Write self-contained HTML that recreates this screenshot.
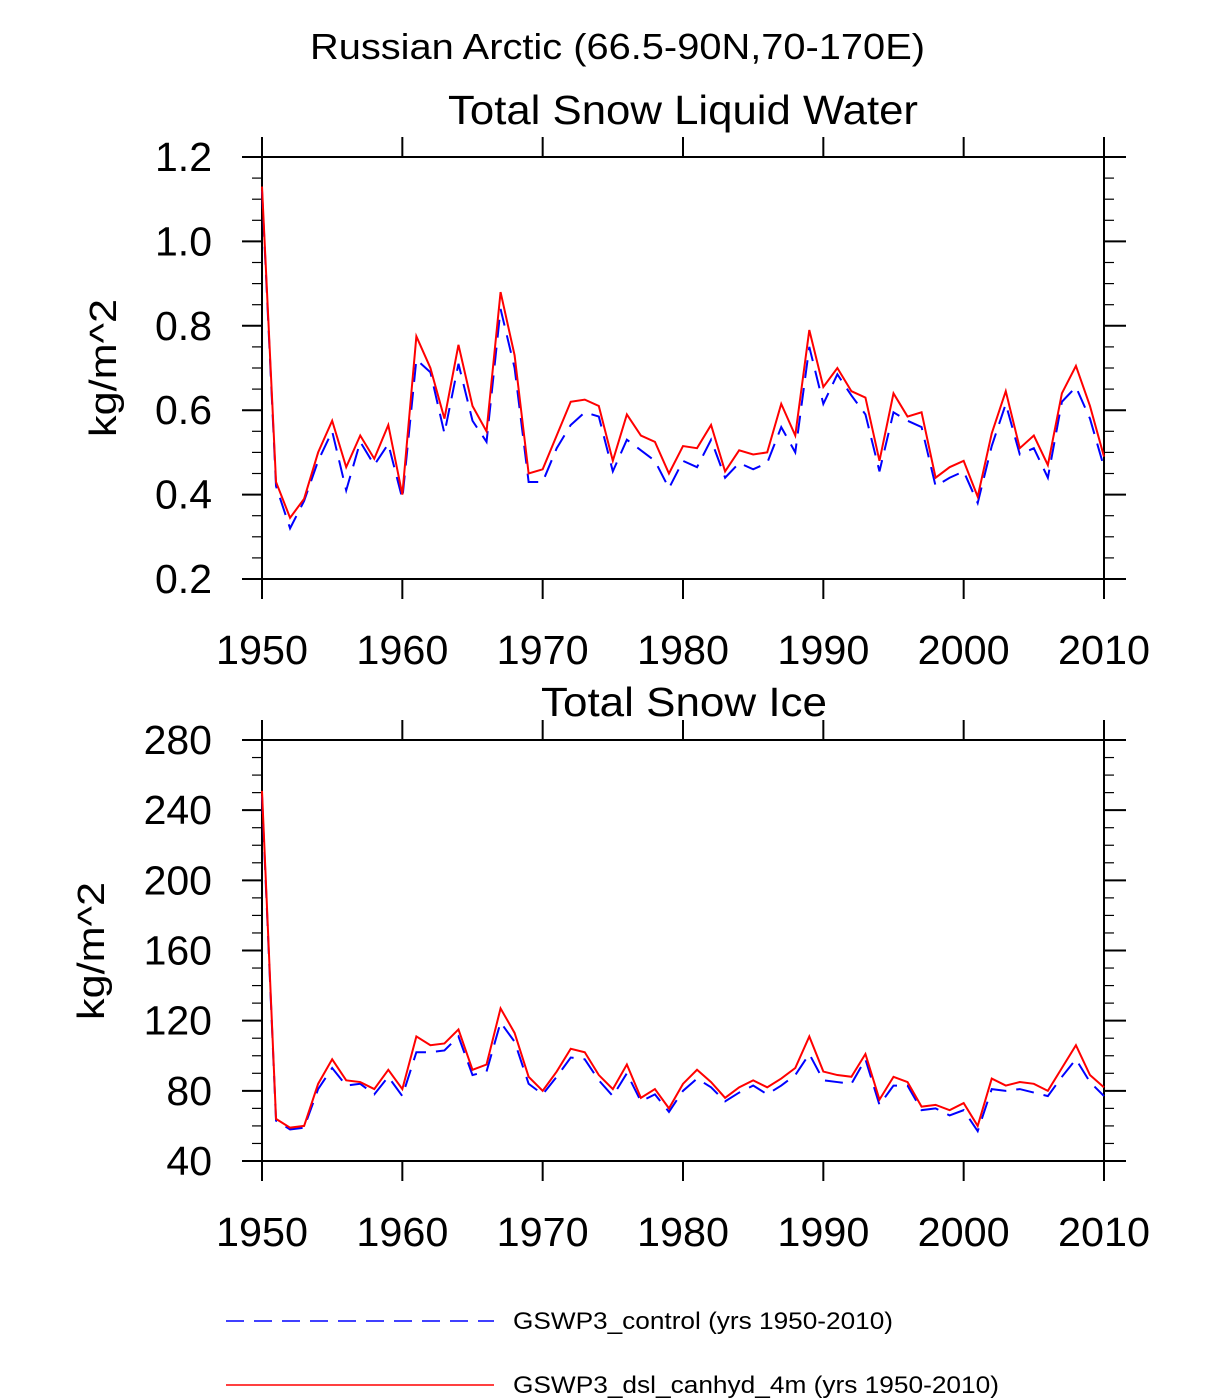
<!DOCTYPE html>
<html><head><meta charset="utf-8"><style>
html,body{margin:0;padding:0;background:#fff;}
svg{display:block;font-family:"Liberation Sans",sans-serif;}
</style></head><body>
<svg id="chart" width="1224" height="1400" viewBox="0 0 1224 1400">
<text x="310" y="59" font-size="36" textLength="615" lengthAdjust="spacingAndGlyphs">Russian Arctic (66.5-90N,70-170E)</text>
<text x="448" y="124" font-size="41" textLength="470" lengthAdjust="spacingAndGlyphs">Total Snow Liquid Water</text>
<text x="541" y="716" font-size="41" textLength="286" lengthAdjust="spacingAndGlyphs">Total Snow Ice</text>
<text transform="translate(116,368) rotate(-90)" font-size="38" text-anchor="middle" textLength="138" lengthAdjust="spacingAndGlyphs">kg/m^2</text>
<text transform="translate(104,951) rotate(-90)" font-size="38" text-anchor="middle" textLength="138" lengthAdjust="spacingAndGlyphs">kg/m^2</text>
<g id="top"></g>
<g id="bot"></g>
<g>
<line x1="226" y1="1321" x2="494" y2="1321" stroke="#0000ff" stroke-width="1.5" stroke-dasharray="18,10"/>
<text x="513" y="1329" font-size="24" textLength="380" lengthAdjust="spacingAndGlyphs">GSWP3_control (yrs 1950-2010)</text>
<line x1="226" y1="1385" x2="494" y2="1385" stroke="#ff0000" stroke-width="1.5"/>
<text x="513" y="1393" font-size="24" textLength="486" lengthAdjust="spacingAndGlyphs">GSWP3_dsl_canhyd_4m (yrs 1950-2010)</text>
</g>
</svg>
<script>
const years = [];
for (let y = 1950; y <= 2010; y++) years.push(y);
const xTickLabels = ["1950","1960","1970","1980","1990","2000","2010"];
const topTickLabels = ["0.2","0.4","0.6","0.8","1.0","1.2"];
const botTickLabels = ["40","80","120","160","200","240","280"];
const topControl = [1.12,0.42,0.32,0.385,0.48,0.55,0.41,0.525,0.47,0.52,0.39,0.72,0.69,0.545,0.71,0.575,0.525,0.84,0.70,0.43,0.43,0.51,0.565,0.595,0.585,0.455,0.53,0.505,0.48,0.415,0.48,0.465,0.53,0.44,0.475,0.46,0.475,0.56,0.50,0.75,0.615,0.685,0.635,0.59,0.455,0.595,0.575,0.56,0.42,0.44,0.455,0.38,0.515,0.615,0.495,0.51,0.44,0.62,0.655,0.58,0.465];
const topCanhyd = [1.13,0.43,0.345,0.39,0.50,0.575,0.465,0.54,0.485,0.565,0.40,0.775,0.70,0.58,0.755,0.61,0.55,0.88,0.73,0.45,0.46,0.54,0.62,0.625,0.61,0.48,0.59,0.54,0.525,0.45,0.515,0.51,0.565,0.455,0.505,0.495,0.50,0.615,0.54,0.79,0.655,0.70,0.645,0.63,0.48,0.64,0.585,0.595,0.44,0.465,0.48,0.395,0.545,0.645,0.51,0.54,0.47,0.64,0.705,0.61,0.49];
const botControl = [248,63,58,59,81,93,83,84,78,88,77,102,102,103,111,89,91,119,108,84,78,88,99,98,86,77,90,74,78,68,80,87,82,74,79,83,78,83,89,101,86,85,84,98,72,83,83,69,70,66,69,57,81,80,81,79,77,88,98,85,77];
const botCanhyd = [251,64,59,60,84,98,86,85,81,92,81,111,106,107,115,92,95,127,113,88,80,91,104,102,89,81,95,76,81,70,84,92,85,76,82,86,82,87,93,111,91,89,88,101,75,88,85,71,72,69,73,60,87,83,85,84,80,93,106,89,82];

const NS = "http://www.w3.org/2000/svg";
function mk(tag, attrs, parent) {
  const e = document.createElementNS(NS, tag);
  for (const k in attrs) e.setAttribute(k, attrs[k]);
  parent.appendChild(e);
  return e;
}
function panel(g, top, bottom, ymin, ymax, ystep, minorStep, yLabels, ctrl, canh, prefix) {
  const L = 262, R = 1104;
  const xs = v => L + (v - 1950) / 60 * (R - L);
  const ys = v => bottom - (v - ymin) / (ymax - ymin) * (bottom - top);
  for (let v = ymin; v <= ymax + 1e-9; v += minorStep) {
    const y = ys(v);
    const l1 = mk("line", {x1: L - 10, y1: y, x2: L, y2: y, stroke: "#000", "stroke-width": 1.2}, g);
    
    
    const l2 = mk("line", {x1: R, y1: y, x2: R + 10, y2: y, stroke: "#000", "stroke-width": 1.2}, g);
    
    
  }
  yLabels.forEach((lab, i) => {
    const v = ymin + i * ystep, y = ys(v);
    const a = mk("line", {x1: L - 20, y1: y, x2: L, y2: y, stroke: "#000", "stroke-width": 2}, g);
    
    
    const b = mk("line", {x1: R, y1: y, x2: R + 22, y2: y, stroke: "#000", "stroke-width": 2}, g);
    
    
    const t = mk("text", {x: 212, y: y + 14, "font-size": 41, "text-anchor": "end"}, g);
    t.textContent = lab;
    
    
  });
  xTickLabels.forEach(lab => {
    const x = xs(+lab);
    const a = mk("line", {x1: x, y1: top - 20, x2: x, y2: top, stroke: "#000", "stroke-width": 2}, g);
    
    
    const b = mk("line", {x1: x, y1: bottom, x2: x, y2: bottom + 20, stroke: "#000", "stroke-width": 2}, g);
    
    
    const t = mk("text", {x: x, y: bottom + 85, "font-size": 41, "text-anchor": "middle", textLength: 92, lengthAdjust: "spacingAndGlyphs"}, g);
    t.textContent = lab;
    
    
  });
  const fr = mk("rect", {x: L, y: top, width: R - L, height: bottom - top, fill: "none", stroke: "#000", "stroke-width": 2}, g);
  
  
  const pc = mk("polyline", {points: ctrl.map((v, i) => xs(years[i]) + "," + ys(v)).join(" "), fill: "none", stroke: "#0000ff", "stroke-width": 2, "stroke-dasharray": "18,10"}, g);
  
  
  const pr = mk("polyline", {points: canh.map((v, i) => xs(years[i]) + "," + ys(v)).join(" "), fill: "none", stroke: "#ff0000", "stroke-width": 2}, g);
  
  
}
panel(document.getElementById("top"), 157, 579, 0.2, 1.2, 0.2, 0.05, topTickLabels, topControl, topCanhyd, "top");
panel(document.getElementById("bot"), 740, 1161, 40, 280, 40, 10, botTickLabels, botControl, botCanhyd, "bottom");
</script>
</body></html>
